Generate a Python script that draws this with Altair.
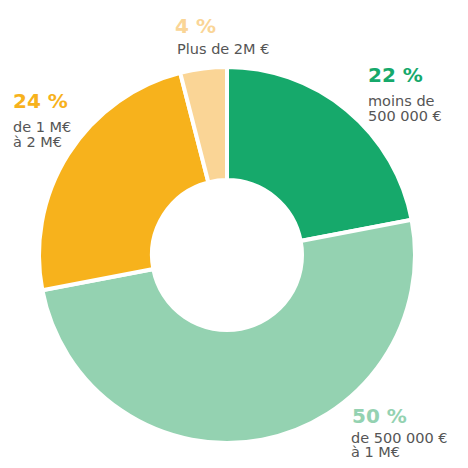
import altair as alt
import pandas as pd

categories = ["moins de 500 000 €", "de 500 000 € à 1 M€", "de 1 M€ à 2 M€", "Plus de 2M €"]
values = [22, 50, 24, 4]
colors = ["#16a96b", "#94d2b1", "#f7b21c", "#fad596"]
pct_labels = ["22 %", "50 %", "24 %", "4 %"]
desc_labels = ["moins de\n500 000 €", "de 500 000 €\nà 1 M€", "de 1 M€\nà 2 M€", "Plus de 2M €"]

# layout (chart pixel coordinates) for the annotations
pct_pos = [(360, 74), (344, 415), (5, 100), (167, 25)]
desc_pos = [(360, 98), (343, 435), (5, 124), (169, 46)]
desc_line_height = [15, 14, 15, 15]

df = pd.DataFrame({
    "cat": categories,
    "value": values,
    "order": list(range(len(values))),
})

W, H = 452, 452
cx, cy = 219, 247

donut = alt.Chart(df).mark_arc(
    innerRadius=75, outerRadius=188, stroke="white", strokeWidth=4
).encode(
    theta=alt.Theta("value:Q", stack=True),
    order=alt.Order("order:Q"),
    color=alt.Color("cat:N", scale=alt.Scale(domain=categories, range=colors), legend=None),
    x=alt.value(cx),
    y=alt.value(cy),
)

layers = [donut]
for i in range(len(values)):
    t_df = pd.DataFrame({"pct": [pct_labels[i]], "desc": [desc_labels[i]]})
    layers.append(
        alt.Chart(t_df).mark_text(
            align="left", baseline="alphabetic", font="DejaVu Sans",
            fontSize=20, fontWeight="bold", color=colors[i]
        ).encode(text="pct:N", x=alt.value(pct_pos[i][0]), y=alt.value(pct_pos[i][1]))
    )
    layers.append(
        alt.Chart(t_df).mark_text(
            align="left", baseline="alphabetic", font="DejaVu Sans",
            fontSize=14.5, color="#555555", lineBreak="\n", lineHeight=desc_line_height[i]
        ).encode(text="desc:N", x=alt.value(desc_pos[i][0]), y=alt.value(desc_pos[i][1]))
    )

chart = alt.layer(*layers).properties(
    width=W, height=H, padding=0,
    autosize=alt.AutoSizeParams(type="fit", contains="padding"),
).configure_view(stroke=None)

chart.save("out.html", embed_options={"renderer": "svg", "actions": False})
